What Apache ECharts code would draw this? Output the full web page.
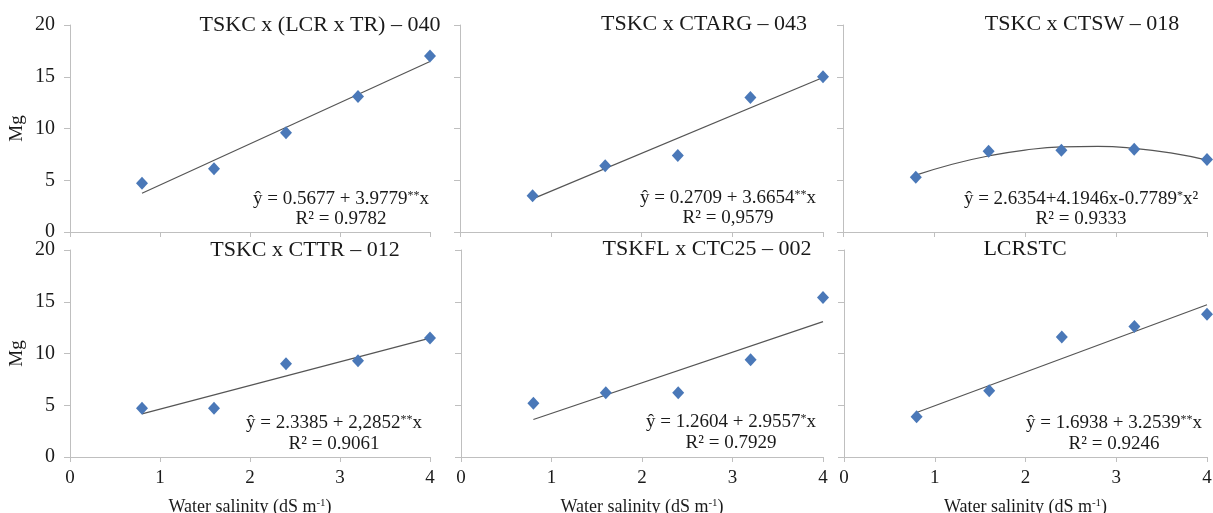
<!DOCTYPE html>
<html>
<head>
<meta charset="utf-8">
<script src="https://cdn.jsdelivr.net/npm/echarts@6/dist/echarts.min.js"></script>
<style>
	html, body { margin: 0; padding: 0; background: #fff; }
	#chart { width: 1213px; height: 513px; }
</style>
</head>
<body>
<div id="chart"></div>
<script>
// water salinity levels (dS m-1)
var salinity = [0.8, 1.6, 2.4, 3.2, 4.0];
var xTicks = [0, 1, 2, 3, 4];
var yTicks = [0, 5, 10, 15, 20];

var panelTitles = [
	'TSKC x (LCR x TR) – 040',
	'TSKC x CTARG – 043',
	'TSKC x CTSW – 018',
	'TSKC x CTTR – 012',
	'TSKFL x CTC25 – 002',
	'LCRSTC'
];

// Mg
var mg040 = [4.7, 6.1, 9.6, 13.1, 17.0];
var mg043 = [3.5, 6.4, 7.4, 13.0, 15.0];
var mg018 = [5.3, 7.8, 7.9, 8.0, 7.0];
var mg012 = [4.7, 4.7, 9.0, 9.3, 11.5];
var mg002 = [5.2, 6.2, 6.2, 9.4, 15.4];
var mgLcr = [3.9, 6.4, 11.6, 12.6, 13.8];

// fitted lines, read at their two ends (x = 0.8 and x = 4)
var lineEndsX = [0.8, 4.0];
var fit040 = [3.75, 16.48];
var fit043 = [3.20, 14.93];
var fit012 = [4.17, 11.48];
var fit002 = [3.62, 13.08];
var fitLcr = [4.30, 14.71];

// quadratic fit of 018
var curveX018 = [0.8, 1.2, 1.6, 2.0, 2.4, 2.8, 3.2, 3.6, 4.0];
var curve018 = [5.49, 6.55, 7.35, 7.91, 8.22, 8.27, 8.08, 7.64, 6.95];

var equations = [
	['{t|ŷ = 0.5677 + 3.9779}{s|**}{t|x}', '{t|R² = 0.9782}'],
	['{t|ŷ = 0.2709 + 3.6654}{s|**}{t|x}', '{t|R² = 0,9579}'],
	['{t|ŷ = 2.6354+4.1946x-0.7789}{s|*}{t|x²}', '{t|R² = 0.9333}'],
	['{t|ŷ = 2.3385 + 2,2852}{s|**}{t|x}', '{t|R² = 0.9061}'],
	['{t|ŷ = 1.2604 + 2.9557}{s|*}{t|x}', '{t|R² = 0.7929}'],
	['{t|ŷ = 1.6938 + 3.2539}{s|**}{t|x}', '{t|R² = 0.9246}']
];

var pointSets = [mg040, mg043, mg018, mg012, mg002, mgLcr];
var fitSets = [fit040, fit043, null, fit012, fit002, fitLcr];

// layout of the six panels (pixels)
var grids = [
	{ left: 70,  top: 25,  width: 360, height: 207, outerBoundsMode: 'none' },
	{ left: 460, top: 25,  width: 363, height: 207, outerBoundsMode: 'none' },
	{ left: 843, top: 25,  width: 364, height: 207, outerBoundsMode: 'none' },
	{ left: 70,  top: 250, width: 360, height: 207, outerBoundsMode: 'none' },
	{ left: 461, top: 250, width: 362, height: 207, outerBoundsMode: 'none' },
	{ left: 844, top: 250, width: 363, height: 207, outerBoundsMode: 'none' }
];
var titlePos = [[320, 25], [704, 24], [1082, 24], [305, 250], [707, 249], [1025, 249]];
var eqPos = [[341, 199, 219], [728, 198, 218], [1081, 199, 219], [334, 423, 444], [731, 422, 443], [1114, 423, 444]];

var serif = '"Liberation Serif", "Times New Roman", serif';
var colors = {
	axis: '#bfbfbf',
	text: '#1a1a1a',
	marker: '#4a78b8',
	fit: '#555555'
};

function pairs(xs, ys) {
	var out = [];
	for (var i = 0; i < ys.length; i++) out.push([xs[i], ys[i]]);
	return out;
}

var xAxes = [], yAxes = [], series = [], graphics = [];

for (var i = 0; i < 6; i++) {
	var leftCol = (i % 3 === 0);
	var bottomRow = (i >= 3);

	xAxes.push({
		type: 'value', gridIndex: i,
		min: xTicks[0], max: xTicks[xTicks.length - 1], interval: 1,
		axisLine: { show: true, lineStyle: { color: colors.axis, width: 1 } },
		axisTick: { show: true, length: 5, lineStyle: { color: colors.axis } },
		splitLine: { show: false },
		axisLabel: { show: bottomRow, margin: 12, fontSize: 19, fontFamily: serif, color: colors.text },
		name: bottomRow ? '{a|Water salinity (dS m}{s|-1}{a|)}' : '',
		nameLocation: 'middle',
		nameGap: 41,
		nameTextStyle: {
			rich: {
				a: { fontSize: 18, fontFamily: serif, color: colors.text },
				s: { fontSize: 11, fontFamily: serif, color: colors.text, verticalAlign: 'top' }
			}
		}
	});

	yAxes.push({
		type: 'value', gridIndex: i,
		min: yTicks[0], max: yTicks[yTicks.length - 1], interval: 5,
		axisLine: { show: true, lineStyle: { color: colors.axis, width: 1 } },
		axisTick: { show: true, length: 6, lineStyle: { color: colors.axis } },
		splitLine: { show: false },
		axisLabel: { show: leftCol, margin: 15, fontSize: 20, fontFamily: serif, color: colors.text },
		name: leftCol ? 'Mg' : '',
		nameLocation: 'middle',
		nameRotate: 90,
		nameGap: 43,
		nameTextStyle: { fontSize: 19, fontFamily: serif, color: colors.text }
	});

	var fitData = fitSets[i] ? pairs(lineEndsX, fitSets[i]) : pairs(curveX018, curve018);
	series.push({
		type: 'line', xAxisIndex: i, yAxisIndex: i,
		data: fitData,
		smooth: !fitSets[i],
		symbol: 'none',
		lineStyle: { color: colors.fit, width: 1.2 },
		z: 2
	});
	series.push({
		type: 'scatter', xAxisIndex: i, yAxisIndex: i,
		data: pairs(salinity, pointSets[i]),
		symbol: 'diamond',
		symbolSize: [12, 13],
		itemStyle: { color: colors.marker, opacity: 1 },
		z: 3
	});

	graphics.push({
		type: 'text', x: titlePos[i][0], y: titlePos[i][1],
		style: { text: panelTitles[i], font: '22px ' + serif, fill: colors.text, align: 'center', verticalAlign: 'middle' }
	});
	for (var k = 0; k < 2; k++) {
		graphics.push({
			type: 'text', x: eqPos[i][0], y: eqPos[i][k + 1],
			style: {
				text: equations[i][k],
				align: 'center', verticalAlign: 'middle',
				rich: {
					t: { fontSize: 19, fontFamily: serif, fill: colors.text },
					s: { fontSize: 12, fontFamily: serif, fill: colors.text, verticalAlign: 'top' }
				}
			}
		});
	}
}

var chart = echarts.init(document.getElementById('chart'), null, { renderer: 'canvas' });
chart.setOption({
	animation: false,
	backgroundColor: '#ffffff',
	grid: grids,
	xAxis: xAxes,
	yAxis: yAxes,
	series: series,
	graphic: graphics
});
</script>
</body>
</html>
